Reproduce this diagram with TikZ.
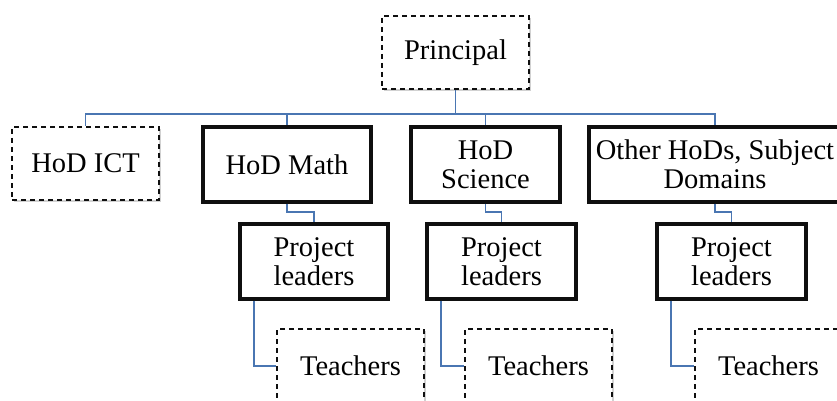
\documentclass[tikz,border=0pt]{standalone}
\usepackage{fontspec}
\setmainfont{Liberation Serif}
\usepackage{xcolor}
\usepackage{tikz}
\usetikzlibrary{positioning, shadows}
\definecolor{orgBlue}{RGB}{74, 118, 178}
\definecolor{orgBlack}{RGB}{15, 15, 15}

\begin{document}
\begin{tikzpicture}[x=1pt, y=-1pt,
    every node/.style={font=\fontsize{28.5}{29}\selectfont, align=center, inner sep=0pt, fill=white,
      drop shadow={shadow xshift=2pt, shadow yshift=-2pt, opacity=0.18, fill=black}},
    dashbox/.style={draw=orgBlack, line width=1.6pt, dash pattern=on 5pt off 4pt, minimum width=147pt, minimum height=73pt},
    solidbox/.style={draw=orgBlack, line width=3.4pt, minimum height=75pt},
    link/.style={draw=orgBlue, line width=1.8pt}]
  \useasboundingbox (0,0) rectangle (837,401);

  % Top
  \node[dashbox] (principal) at (455.5,52.5) {Principal};

  % Heads of department
  \node[dashbox] (ict) at (85.5,163.5) {HoD ICT};
  \node[solidbox, minimum width=168pt] (math) at (287,164.5) {HoD Math};
  \node[solidbox, minimum width=149pt] (sci) at (485.5,164.5) {HoD\\Science};
  \node[solidbox, minimum width=252pt] (other) at (715,164.5) {Other HoDs, Subject\\Domains};

  % Project leaders
  \node[solidbox, minimum width=148pt] (plmath) at (314,261.5) {Project\\leaders};
  \node[solidbox, minimum width=149pt] (plsci) at (501.5,261.5) {Project\\leaders};
  \node[solidbox, minimum width=149pt] (ploth) at (731.5,261.5) {Project\\leaders};

  % Teachers
  \node[dashbox, minimum height=74pt] (tmath) at (350.5,366) {Teachers};
  \node[dashbox, minimum height=74pt] (tsci) at (538.5,366) {Teachers};
  \node[dashbox, minimum height=74pt] (toth) at (768.5,366) {Teachers};

  % Connectors
  \foreach \n in {ict, math, sci, other}
    \draw[link] (principal.south) -- ++(0,24) -| (\n.north);
  \draw[link] (math.south) -- ++(0,8) -| (plmath.north);
  \draw[link] (sci.south) -- ++(0,8) -| (plsci.north);
  \draw[link] (other.south) -- ++(0,8) -| (ploth.north);
  \draw[link] ([xshift=15.5pt]plmath.south west) |- (tmath.west);
  \draw[link] ([xshift=15.5pt]plsci.south west) |- (tsci.west);
  \draw[link] ([xshift=15.5pt]ploth.south west) |- (toth.west);
\end{tikzpicture}
\end{document}
